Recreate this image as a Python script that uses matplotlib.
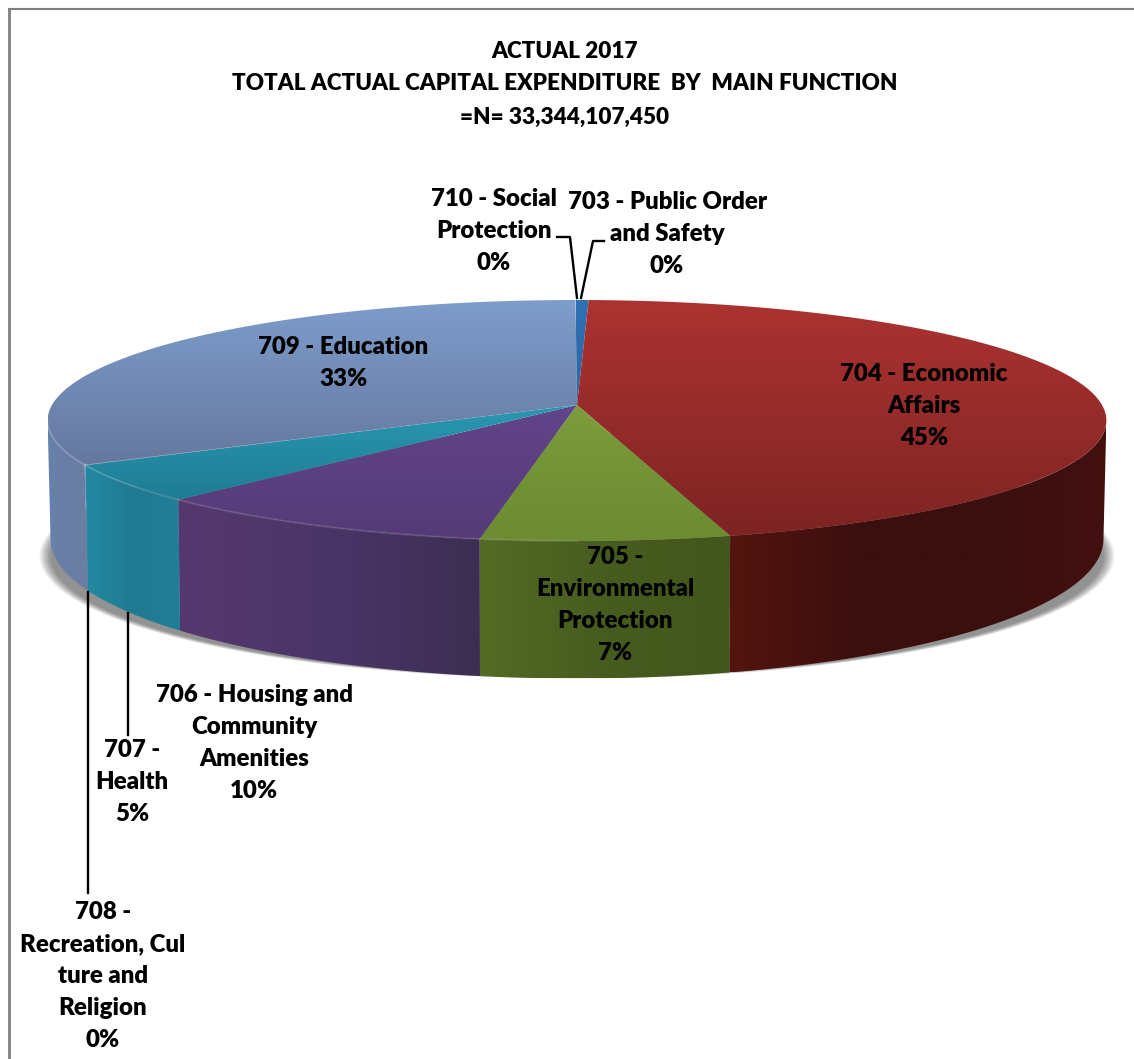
import matplotlib
matplotlib.use('Agg')
import matplotlib.pyplot as plt
import numpy as np
from matplotlib.colors import LinearSegmentedColormap
from matplotlib.patches import Polygon

## data (share of total, clockwise from 12 o'clock)
codes = ['703', '704', '705', '706', '707', '708', '709', '710']
shares = [0.4, 45.49, 6.7, 9.5, 5.0, 0.05, 32.81, 0.05]
title_lines = ['ACTUAL 2017', 'TOTAL ACTUAL CAPITAL EXPENDITURE  BY  MAIN FUNCTION', '=N= 33,344,107,450']
label_texts = ['703 - Public Order\nand Safety\n0%', '704 - Economic\nAffairs\n45%',
               '705 -\nEnvironmental\nProtection\n7%', '706 - Housing and\nCommunity\nAmenities\n10%',
               '707 -\nHealth\n5%', '708 -\nRecreation, Cul\nture and\nReligion\n0%',
               '709 - Education\n33%', '710 - Social\nProtection\n0%']

## styles
top_colors = [['#2f72b4', '#2a66a4'], ['#ac3331', '#7e2423'], ['#7c9c3c', '#6c8b32'], ['#62458a', '#553a77'],
              ['#2a98b2', '#1f7c94'], ['#5a7ca8', '#5a7ca8'], ['#7e9dcb', '#65789f'], ['#2f72b4', '#2a66a4']]
side_colors = [['#2a5a90', '#2a5a90'], ['#54150f', '#3c0f0e', '#3a0f0f', '#431010'], ['#536b24', '#475c1f', '#43561c'],
               ['#56386f', '#4a3568', '#3c2e52'], ['#238aa3', '#1f7a92', '#217f97'], ['#5a7ca8', '#5a7ca8'],
               ['#6683ab', '#6a7da5', '#6a7ea3'], ['#2a5a90', '#2a5a90']]
label_pos = [(667, 234), (924, 406), (615, 605), (254, 743), (132, 782), (103, 976), (343, 363), (494, 231)]
text_style = dict(ha='center', va='center', family='Lato', weight='heavy', color='black', zorder=7)

fig = plt.figure(figsize=(11.34, 10.59), dpi=100)
ax = fig.add_axes([0, 0, 1, 1])


## turn an angle on the pie into picture position
def top_xy(th):
    u, v = np.sin(th), -np.cos(th)
    return 577 + 525 * u / (1 - 0.1286 * v), 405 + 118.5 * v / (1 - 0.1286 * v)


def bottom_xy(th):
    u, v = np.sin(th), -np.cos(th)
    return 577 + 522 * u / (1 - 0.13 * v), 521 + 137 * v / (1 - 0.13 * v)


def shadow_xy(th, grow):
    u, v = np.sin(th), -np.cos(th)
    return 577 + (522 + grow) * u / (1 - 0.13 * v), 540 + (119 + grow * 0.15) * v / (1 - 0.13 * v)


def gradient_fill(xs, ys, colors, vertical):
    cm = LinearSegmentedColormap.from_list('g', colors)
    g = np.linspace(0, 1, 256)
    g = g.reshape(-1, 1) if vertical else g.reshape(1, -1)
    im = ax.imshow(g, cmap=cm, aspect='auto', extent=(xs.min(), xs.max(), ys.max(), ys.min()),
                   interpolation='bilinear', zorder=3 if vertical else 2)
    pg = Polygon(np.column_stack([xs, ys]), closed=True, transform=ax.transData)
    im.set_clip_path(pg)


edges = np.radians(np.concatenate([[0], np.cumsum(shares)]) / sum(shares) * 360)
wall_from, wall_to = np.pi / 2 + 0.13, 3 * np.pi / 2 - 0.13

## soft shadow under the pie
circle = np.linspace(0, 2 * np.pi, 400)
for i in range(12):
    sx, sy = shadow_xy(circle, 11 - i)
    ax.fill(sx, sy, color='black', alpha=0.045, lw=0, zorder=1)

for i in range(len(shares)):
    th = np.linspace(edges[i], edges[i + 1], 120)
    ## side wall, only the front part can be seen
    if edges[i + 1] > wall_from and edges[i] < wall_to:
        front = np.linspace(max(edges[i], wall_from), min(edges[i + 1], wall_to), 120)
        tx, ty = top_xy(front)
        bx, by = bottom_xy(front)
        gradient_fill(np.concatenate([tx, bx[::-1]]), np.concatenate([ty, by[::-1]]), side_colors[i], False)
    ## top face
    tx, ty = top_xy(th)
    gradient_fill(np.concatenate([[577], tx]), np.concatenate([[405], ty]), top_colors[i], True)
    ## light rim on the front edge
    if edges[i + 1] > np.pi and edges[i] < wall_to:
        rim = np.linspace(max(edges[i], np.pi), min(edges[i + 1], wall_to), 80)
        rx, ry = top_xy(rim)
        ax.plot(rx, ry, color='white', alpha=0.1, lw=1.6, zorder=4)

## leader lines
ax.plot([557, 570, 577], [237, 237, 298], color='black', lw=1.7, zorder=5)
ax.plot([604, 593, 581], [241, 241, 298], color='black', lw=1.7, zorder=5)
ax.plot([128, 128], [613, 735], color='black', lw=1.7, zorder=5)
ax.plot([88, 88], [592, 893], color='black', lw=1.7, zorder=5)

## frame on the left and top
ax.plot([9, 9], [1059, 9], color='#808080', lw=2, zorder=6)
ax.plot([9, 1134], [9, 9], color='#808080', lw=1.5, zorder=6)

## text
for y, s in zip([51, 84, 117], title_lines):
    ax.text(565, y, s, fontsize=16.2, **text_style)
for (x, y), s in zip(label_pos, label_texts):
    ax.text(x, y, s, fontsize=17.3, linespacing=1.56, **text_style)

ax.set_xlim(0, 1134)
ax.set_ylim(1059, 0)
ax.axis('off')
fig.savefig('out.png', dpi=100, facecolor='white')
